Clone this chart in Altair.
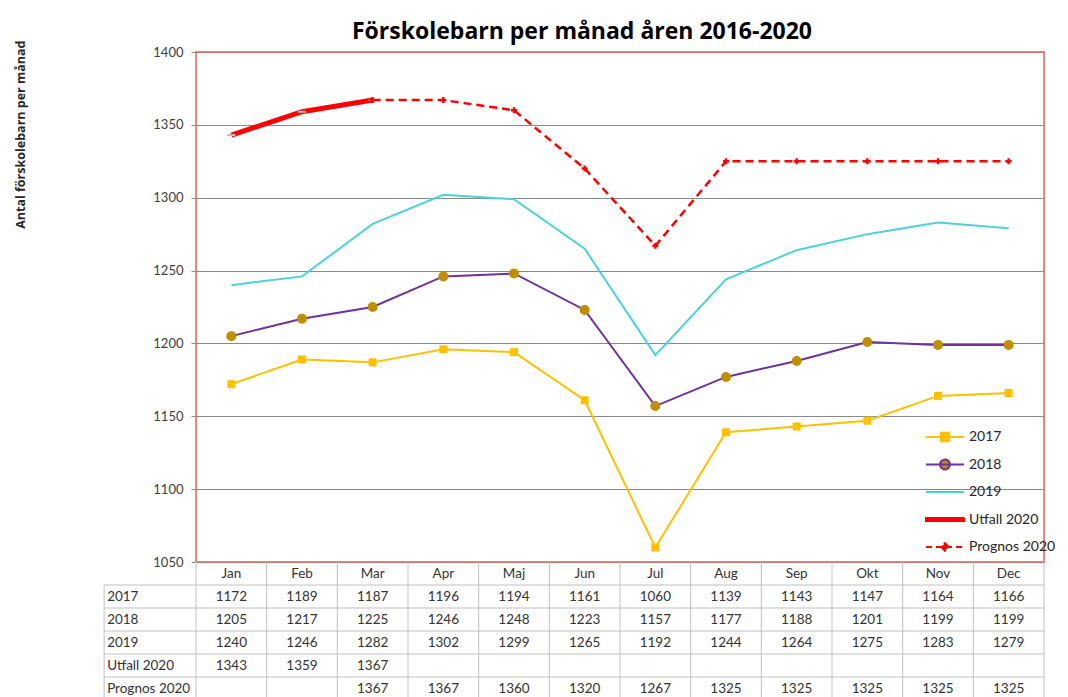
import altair as alt
import pandas as pd

# ---------------- data ----------------
months = ["Jan", "Feb", "Mar", "Apr", "Maj", "Jun", "Jul", "Aug", "Sep", "Okt", "Nov", "Dec"]
v2017 = [1172, 1189, 1187, 1196, 1194, 1161, 1060, 1139, 1143, 1147, 1164, 1166]
v2018 = [1205, 1217, 1225, 1246, 1248, 1223, 1157, 1177, 1188, 1201, 1199, 1199]
v2019 = [1240, 1246, 1282, 1302, 1299, 1265, 1192, 1244, 1264, 1275, 1283, 1279]
utfall2020 = [1343, 1359, 1367, None, None, None, None, None, None, None, None, None]
prognos2020 = [None, None, 1367, 1367, 1360, 1320, 1267, 1325, 1325, 1325, 1325, 1325]
series_names = ["2017", "2018", "2019", "Utfall 2020", "Prognos 2020"]
series_values = [v2017, v2018, v2019, utfall2020, prognos2020]
y_ticks = [1050, 1100, 1150, 1200, 1250, 1300, 1350, 1400]

# ---------------- layout constants ----------------
W, H = 848, 510
ROW_H = 23
N_ROWS = 6
LABEL_COL = -1.3  # label column width in month units

rows = []
for si, (name, vals) in enumerate(zip(series_names, series_values)):
    for mi, (m, v) in enumerate(zip(months, vals)):
        if v is not None:
            rows.append({"series": name, "row": si, "month": m, "mi": mi + 0.5,
                         "value": v, "trow": si + 1.5, "label": str(v)})
df = pd.DataFrame(rows)

xscale = alt.Scale(domain=[0, 12], nice=False, zero=False)
X = alt.X("mi:Q", scale=xscale, axis=None)

yaxis = alt.Axis(values=y_ticks, format="d", grid=True, gridColor="#8a8a8a", gridWidth=1,
                 domain=False, tickSize=5, tickColor="#8a8a8a", labelPadding=8,
                 labelFont="Lato", labelFontSize=13, labelColor="#404040",
                 title="Antal förskolebarn per månad", titleFont="Open Sans", titleFontSize=12.5,
                 titleFontWeight="bold", titleColor="#262626", titleAngle=270,
                 titleAlign="right", titleBaseline="middle", titleX=-176, titleY=-12)
yscale = alt.Scale(domain=[1050, 1400], nice=False, zero=False)
Y = alt.Y("value:Q", scale=yscale, axis=yaxis)

def sdata(name):
    return df[df["series"] == name]

# border of plot area (data-driven from domain extents)
border_df = pd.DataFrame({"x0": [0], "x1": [12], "value": [1050], "hi": [1400]})
border = alt.Chart(border_df).mark_rect(filled=False, stroke="#E06666", strokeWidth=1.5).encode(
    x=alt.X("x0:Q", scale=xscale, axis=None), x2="x1", y=Y, y2="hi")

l2017 = alt.Chart(sdata("2017")).mark_line(color="#FFC000", strokeWidth=2).encode(x=X, y=Y)
p2017 = alt.Chart(sdata("2017")).mark_point(shape="square", filled=True, color="#FFC000",
                                           size=64, opacity=1).encode(x=X, y=Y)
l2018 = alt.Chart(sdata("2018")).mark_line(color="#7030A0", strokeWidth=2).encode(x=X, y=Y)
p2018 = alt.Chart(sdata("2018")).mark_point(shape="circle", filled=True, color="#BF8F00",
                                           size=100, opacity=1).encode(x=X, y=Y)
l2019 = alt.Chart(sdata("2019")).mark_line(color="#4BD2DA", strokeWidth=2).encode(x=X, y=Y)
lutf = alt.Chart(sdata("Utfall 2020")).mark_line(color="#FF0000", strokeWidth=5).encode(x=X, y=Y)
putf = alt.Chart(sdata("Utfall 2020")).mark_point(shape="M-1,0H1", filled=False, stroke="#BFBFBF",
                                                 strokeWidth=2, size=64, opacity=1).encode(x=X, y=Y)
lpro = alt.Chart(sdata("Prognos 2020")).mark_line(color="#FF0000", strokeWidth=2.5,
                                                 strokeDash=[8, 5]).encode(x=X, y=Y)
ppro = alt.Chart(sdata("Prognos 2020")).mark_point(shape="cross", filled=True, color="#FF0000",
                                                  size=36, opacity=1).encode(x=X, y=Y)

# legend (symbols only, no marks drawn)
legend_paths = [
    "M-1,0H1M-0.22,-0.22H0.22V0.22H-0.22Z",
    "M-1,0H1M-0.26,0A0.26,0.26,0,1,1,0.26,0A0.26,0.26,0,1,1,-0.26,0Z",
    "M-1,0H1",
    "M-1,-0.08H1V0.08H-1Z",
    "M-1,0H1M0,-0.2L0.2,0L0,0.2L-0.2,0Z",
]
legend_fills = ["#FFC000", "#BF8F00", "transparent", "#FF0000", "#FF0000"]
legend_strokes = ["#FFC000", "#7030A0", "#4BD2DA", "#FF0000", "#FF0000"]
legend_dashes = [[1, 0], [1, 0], [1, 0], [1, 0], [6, 4]]
leg = alt.Legend(title=None, orient="none", legendX=729, legendY=378, labelFont="Lato",
                 labelFontSize=14, labelColor="#262626", symbolSize=1444, symbolStrokeWidth=2,
                 clipHeight=14, rowPadding=13.5, labelOffset=4, padding=0, symbolOpacity=1)
legend_df = pd.DataFrame({"series": series_names})
legend_layer = alt.Chart(legend_df).mark_point(opacity=1).encode(
    shape=alt.Shape("series:N", scale=alt.Scale(domain=series_names, range=legend_paths), legend=leg),
    fill=alt.Fill("series:N", scale=alt.Scale(domain=series_names, range=legend_fills), legend=leg),
    stroke=alt.Stroke("series:N", scale=alt.Scale(domain=series_names, range=legend_strokes), legend=leg),
    strokeDash=alt.StrokeDash("series:N", scale=alt.Scale(domain=series_names, range=legend_dashes), legend=leg),
).transform_filter("false")

main = alt.layer(border, l2017, p2017, l2018, p2018, l2019, lutf, putf, lpro, ppro, legend_layer)

# ---------------- data table ----------------
tscale = alt.Scale(domain=[0, N_ROWS], range=[H, H + N_ROWS * ROW_H], nice=False, zero=False)
vlines_df = pd.DataFrame({"x": list(range(13)) + [LABEL_COL],
                          "y0": [0] * 13 + [1], "y1": [N_ROWS] * 14})
hlines_df = pd.DataFrame({"y": list(range(1, N_ROWS + 1)), "x0": LABEL_COL, "x1": 12})
header_df = pd.DataFrame({"month": months, "mi": [i + 0.5 for i in range(12)], "y": 0.5})
rowlab_df = pd.DataFrame({"series": series_names, "x": LABEL_COL,
                          "y": [i + 1.5 for i in range(len(series_names))]})

grid_col = "#C0C0C0"
vlines = alt.Chart(vlines_df).mark_rule(color=grid_col, strokeWidth=1).encode(
    x=alt.X("x:Q", scale=xscale, axis=None),
    y=alt.Y("y0:Q", scale=tscale, axis=None), y2="y1")
hlines = alt.Chart(hlines_df).mark_rule(color=grid_col, strokeWidth=1).encode(
    x=alt.X("x0:Q", scale=xscale, axis=None), x2="x1",
    y=alt.Y("y:Q", scale=tscale, axis=None))
txt_kw = dict(font="Lato", fontSize=13.5, color="#333333", baseline="middle")
header = alt.Chart(header_df).mark_text(align="center", **txt_kw).encode(
    x=X, y=alt.Y("y:Q", scale=tscale, axis=None), text="month:N")
values = alt.Chart(df).mark_text(align="center", **txt_kw).encode(
    x=X, y=alt.Y("trow:Q", scale=tscale, axis=None), text="label:N")
rowlab = alt.Chart(rowlab_df).mark_text(align="left", dx=3, **txt_kw).encode(
    x=alt.X("x:Q", scale=xscale, axis=None), y=alt.Y("y:Q", scale=tscale, axis=None),
    text="series:N")

table = alt.layer(vlines, hlines, header, values, rowlab)

chart = alt.layer(main, table).resolve_scale(y="independent").properties(
    width=W, height=H,
    autosize=alt.AutoSizeParams(type="none"),
    padding={"left": 188, "top": 44, "right": 16, "bottom": 140},
    title=alt.TitleParams("Förskolebarn per månad åren 2016-2020", font="Open Sans", fontSize=23,
                          fontWeight="bold", color="#000000", anchor="middle", frame="group",
                          dx=-38, dy=8, offset=4),
).configure_view(strokeWidth=0).configure(background="white", font="Lato")

chart.save("out.html", embed_options={"renderer": "svg", "actions": False})
